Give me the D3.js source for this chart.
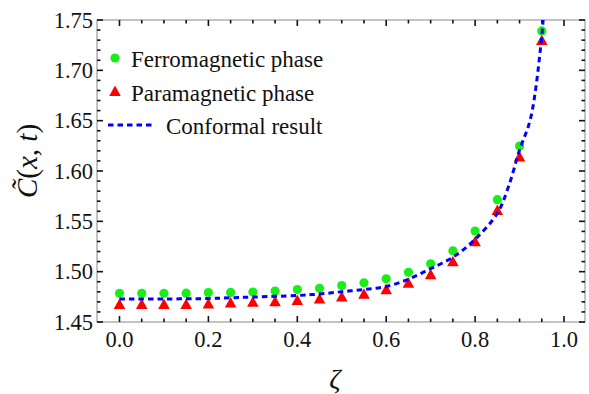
<!DOCTYPE html>
<html>
<head>
<meta charset="utf-8">
<script src="https://cdn.jsdelivr.net/npm/d3@7"></script>
<style>
  html, body { margin: 0; padding: 0; background: #fff; }
  svg { display: block; }
  text { font-family: "Liberation Serif", "Times New Roman", serif; fill: #111; }
</style>
</head>
<body>
<svg id="chart" width="589" height="394"></svg>
<script>
// Sampled zeta values for the lattice data
const zeta = [0, 0.05, 0.1, 0.15, 0.2, 0.25, 0.3, 0.35, 0.4, 0.45,
              0.5, 0.55, 0.6, 0.65, 0.7, 0.75, 0.8, 0.85, 0.9, 0.95];
const ferroValues = [1.4785, 1.4785, 1.4785, 1.4786, 1.4792, 1.4794, 1.4798, 1.4808, 1.4823, 1.4835,
                     1.4862, 1.4890, 1.4929, 1.4994, 1.5078, 1.5208, 1.5404, 1.5715, 1.6248, 1.7391];
const paraValues  = [1.4669, 1.4669, 1.4669, 1.4669, 1.4674, 1.4684, 1.4691, 1.4696, 1.4709, 1.4724,
                     1.4743, 1.4770, 1.4816, 1.4881, 1.4964, 1.5093, 1.5292, 1.5603, 1.6134, 1.7291];
// Conformal prediction curve
const conformalZeta   = [0, 0.1, 0.2, 0.25, 0.3, 0.4, 0.45, 0.5, 0.55, 0.6, 0.65, 0.7, 0.75, 0.8, 0.85, 0.875, 0.9, 0.925, 0.95, 0.953, 0.956];
const conformalValues = [1.4729, 1.4729, 1.4733, 1.4741, 1.4748, 1.4763, 1.4778, 1.4801, 1.4823, 1.4853, 1.4925, 1.5030, 1.5143, 1.5322, 1.5580, 1.5844, 1.6209, 1.6527, 1.7340, 1.7500, 1.7660];
// Axis ticks
const xMajorTicks = [0, 0.2, 0.4, 0.6, 0.8, 1.0];
const yMajorTicks = [1.45, 1.50, 1.55, 1.60, 1.65, 1.70, 1.75];
const legendLabels = ["Ferromagnetic phase", "Paramagnetic phase", "Conformal result"];

const svg = d3.select("#chart");
const mLeft = 97, mRight = 585, mTop = 20, mBottom = 322;

const x = d3.scaleLinear().domain([-0.0506, 1.0472]).range([mLeft, mRight]);
const y = d3.scaleLinear().domain([1.45, 1.75]).range([mBottom, mTop]);

const GREEN = "rgb(25,238,25)", RED = "rgb(255,0,0)", BLUE = "rgb(0,0,255)";

// Minor ticks
const xMinor = d3.range(0, 1.0001, 0.05).filter(v => !xMajorTicks.some(m => Math.abs(m - v) < 1e-6));
const yMinor = d3.range(1.45, 1.7501, 0.01).filter(v => !yMajorTicks.some(m => Math.abs(m - v) < 1e-6));

const frame = svg.append("g");
frame.append("rect")
  .attr("x", mLeft).attr("y", mTop)
  .attr("width", mRight - mLeft).attr("height", mBottom - mTop)
  .attr("fill", "none").attr("stroke", "#888").attr("stroke-width", 1);

const tickG = svg.append("g").attr("stroke", "#111").attr("stroke-width", 1.6);
const majLen = 6, minLen = 3.5;
function xTicks(vals, len) {
  vals.forEach(v => {
    const px = x(v);
    tickG.append("line").attr("x1", px).attr("x2", px).attr("y1", mBottom).attr("y2", mBottom - len);
    tickG.append("line").attr("x1", px).attr("x2", px).attr("y1", mTop).attr("y2", mTop + len);
  });
}
function yTicks(vals, len) {
  vals.forEach(v => {
    const py = y(v);
    tickG.append("line").attr("x1", mLeft).attr("x2", mLeft + len).attr("y1", py).attr("y2", py);
    tickG.append("line").attr("x1", mRight).attr("x2", mRight - len).attr("y1", py).attr("y2", py);
  });
}
xTicks(xMajorTicks, majLen); xTicks(xMinor, minLen);
yTicks(yMajorTicks, majLen); yTicks(yMinor, minLen);

// Tick labels
svg.append("g").selectAll("text").data(xMajorTicks).join("text")
  .attr("x", d => x(d)).attr("y", 347)
  .attr("text-anchor", "middle").attr("font-size", 22.5)
  .text(d => d.toFixed(1));
svg.append("g").selectAll("text").data(yMajorTicks).join("text")
  .attr("x", mLeft - 4).attr("y", d => y(d) + 7.5)
  .attr("text-anchor", "end").attr("font-size", 22.5)
  .text(d => d.toFixed(2));

// Axis titles
svg.append("text")
  .attr("x", 335).attr("y", 388)
  .attr("text-anchor", "middle").attr("font-size", 28).attr("font-style", "italic")
  .text("ζ");

const yl = svg.append("text")
  .attr("transform", "translate(37,161) rotate(-90)")
  .attr("text-anchor", "middle").attr("font-size", 29);
yl.append("tspan").attr("font-style", "italic").text("C\u0303");
yl.append("tspan").text("(");
yl.append("tspan").attr("font-style", "italic").text("x");
yl.append("tspan").text(", ");
yl.append("tspan").attr("font-style", "italic").text("t");
yl.append("tspan").text(")");

// Plot clip
svg.append("clipPath").attr("id", "plotClip")
  .append("rect").attr("x", mLeft).attr("y", mTop).attr("width", mRight - mLeft).attr("height", mBottom - mTop);
const plot = svg.append("g").attr("clip-path", "url(#plotClip)");

const conformal = conformalZeta.map((z, i) => [z, conformalValues[i]]);
const line = d3.line().x(d => x(d[0])).y(d => y(d[1])).curve(d3.curveCatmullRom.alpha(0.5));

const triPath = s => `M0,${-s * 0.62}L${s * 0.55},${s * 0.38}L${-s * 0.55},${s * 0.38}Z`;

// Paramagnetic triangles
plot.append("g").selectAll("path").data(zeta).join("path")
  .attr("d", triPath(10.5))
  .attr("transform", (d, i) => `translate(${x(d)},${y(paraValues[i])})`)
  .attr("fill", RED);

// Ferromagnetic circles
plot.append("g").selectAll("circle").data(zeta).join("circle")
  .attr("cx", d => x(d)).attr("cy", (d, i) => y(ferroValues[i]))
  .attr("r", 4.6).attr("fill", GREEN);

// Conformal curve
plot.append("path").datum(conformal)
  .attr("d", line)
  .attr("fill", "none").attr("stroke", BLUE)
  .attr("stroke-width", 3).attr("stroke-dasharray", "5.5,4");

// Legend
const lg = svg.append("g");
lg.append("circle").attr("cx", 115).attr("cy", 58).attr("r", 4.6).attr("fill", GREEN);
lg.append("path").attr("d", triPath(10.5)).attr("transform", "translate(115,92)").attr("fill", RED);
lg.append("line").attr("x1", 108).attr("x2", 153).attr("y1", 125).attr("y2", 125)
  .attr("stroke", BLUE).attr("stroke-width", 3).attr("stroke-dasharray", "5.5,4");
lg.append("text").attr("x", 131).attr("y", 67).attr("font-size", 23).text(legendLabels[0]);
lg.append("text").attr("x", 131).attr("y", 101).attr("font-size", 23).text(legendLabels[1]);
lg.append("text").attr("x", 166).attr("y", 134).attr("font-size", 23).text(legendLabels[2]);
</script>
</body>
</html>
